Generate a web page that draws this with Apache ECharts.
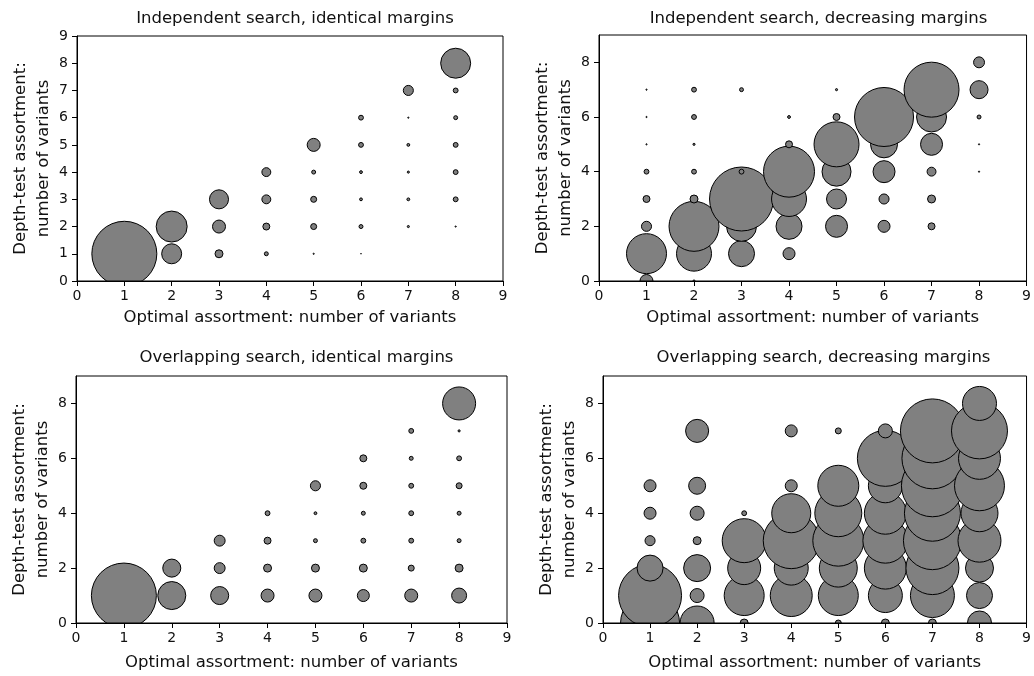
<!DOCTYPE html>
<html>
<head>
<meta charset="utf-8">
<script src="https://cdn.jsdelivr.net/npm/echarts@6/dist/echarts.min.js"></script>
<style>
html,body{margin:0;padding:0;background:#fff;}
#chart{width:1034px;height:676px;}
</style>
</head>
<body>
<div id="chart"></div>
<script>
// Panel titles
const panelTitles = [
  'Independent search, identical margins',
  'Independent search, decreasing margins',
  'Overlapping search, identical margins',
  'Overlapping search, decreasing margins'
];
const xAxisTitle = 'Optimal assortment: number of variants';
const yAxisTitle = 'Depth-test assortment:\nnumber of variants';

// Tick labels
const xTickValues = [0, 1, 2, 3, 4, 5, 6, 7, 8, 9];
const yTicksAll = [0, 1, 2, 3, 4, 5, 6, 7, 8, 9];
const yTicksEven = [0, 2, 4, 6, 8];

// Categories: optimal assortment (rows) and depth-test assortment (columns 0..8)
const optimalVariants = [1, 2, 3, 4, 5, 6, 7, 8];
const depthVariants = [0, 1, 2, 3, 4, 5, 6, 7, 8];

// Relative frequency (bubble area) — rows: optimal 1..8, columns: depth-test 0..8
const indepIdentical = [
  [0, 88.9, 0, 0, 0, 0, 0, 0, 0],
  [0, 9.0, 20.9, 0, 0, 0, 0, 0, 0],
  [0, 1.65, 4.0, 8.2, 0, 0, 0, 0, 0],
  [0, 0.5, 1.3, 2.0, 2.0, 0, 0, 0, 0],
  [0, 0.1, 1.0, 1.0, 0.5, 4.0, 0, 0, 0],
  [0, 0.05, 0.5, 0.3, 0.3, 0.7, 0.7, 0, 0],
  [0, 0, 0.2, 0.3, 0.2, 0.3, 0.1, 2.5, 0],
  [0, 0, 0.1, 0.7, 0.7, 0.7, 0.5, 0.7, 19.6]
];
const indepDecreasing = [
  [4.0, 34.3, 2.5, 1.3, 0.7, 0.1, 0.1, 0.1, 0],
  [0.2, 26.4, 53, 1.65, 0.7, 0.2, 0.7, 0.7, 0],
  [0, 14.9, 19.6, 86.2, 0.7, 0, 0, 0.5, 0],
  [0, 3.45, 14.9, 26.4, 55.2, 1.3, 0.3, 0, 0],
  [0, 0, 10.8, 9.0, 18.4, 43.2, 1.3, 0.2, 0],
  [0, 0, 3.45, 2.5, 10.8, 16, 73.5, 0, 0],
  [0, 0, 1.3, 1.65, 2.0, 10.8, 19.6, 64, 0],
  [0, 0, 0, 0, 0.1, 0.1, 0.5, 7.4, 2.9]
];
const overlapIdentical = [
  [0, 88.9, 0, 0, 0, 0, 0, 0, 0],
  [0, 17.2, 7.4, 0, 0, 0, 0, 0, 0],
  [0, 7.4, 2.9, 2.9, 0, 0, 0, 0, 0],
  [0, 4.0, 1.65, 1.3, 0.7, 0, 0, 0, 0],
  [0, 4.0, 1.65, 0.5, 0.3, 2.5, 0, 0, 0],
  [0, 3.45, 1.65, 0.7, 0.5, 1.3, 1.3, 0, 0],
  [0, 4.0, 1.0, 0.7, 0.7, 0.7, 0.5, 0.7, 0],
  [0.1, 5.2, 1.65, 0.5, 0.5, 1.0, 0.7, 0.2, 23.6]
];
const overlapDecreasing = [
  [73.5, 83.6, 14.9, 2.5, 3.45, 3.45, 0, 0, 0],
  [25, 4.6, 16, 1.65, 4.6, 6.6, 0, 11.8, 0],
  [1.65, 34.3, 23.6, 41.3, 0.7, 0, 0, 0, 0],
  [0, 37.7, 25, 66.3, 32.7, 3.45, 0, 3.45, 0],
  [1.0, 34.3, 31, 55.2, 47, 36, 0, 1.0, 0],
  [1.65, 25, 37.7, 43.2, 37.7, 25, 66.3, 4.6, 0],
  [1.65, 41.3, 59.5, 71, 66.3, 81, 78.4, 86.2, 0],
  [12.8, 14.9, 17.2, 39.5, 29.5, 53, 37.7, 66.3, 25]
];

const panelData = [indepIdentical, indepDecreasing, overlapIdentical, overlapDecreasing];
const panelYTicks = [yTicksAll, yTicksEven, yTicksEven, yTicksEven];

// layout
const grids = [
  {left: 77, top: 36, width: 426, height: 245},
  {left: 599, top: 35, width: 429, height: 246},
  {left: 76, top: 376, width: 431, height: 247},
  {left: 603, top: 376, width: 431, height: 247}
];
const xNameGaps = [28, 28, 31, 31];
const yNameGaps = [21, 20, 21, 20];
const titleTops = [5, 5, 344, 344];

const FONT = "'DejaVu Sans', 'Liberation Sans', Arial, sans-serif";
const TXT = '#111';

function bubbleDiameter(v) { return 7 * Math.sqrt(v); }

const option = {
  animation: false,
  backgroundColor: '#fff',
  textStyle: {fontFamily: FONT},
  title: panelTitles.map((t, i) => ({
    text: t,
    left: grids[i].left + grids[i].width / 2,
    top: titleTops[i],
    textAlign: 'center',
    textStyle: {fontSize: 16.5, fontWeight: 'normal', color: TXT, fontFamily: FONT}
  })),
  grid: grids.map(g => Object.assign({show: true, borderColor: '#000', borderWidth: 1, z: 10, backgroundColor: 'transparent'}, g)),
  xAxis: grids.map((g, i) => ({
    type: 'value', gridIndex: i, min: 0, max: 9, interval: 1, z: 10,
    name: xAxisTitle, nameLocation: 'middle', nameGap: xNameGaps[i],
    nameTextStyle: {fontSize: 16.5, color: TXT, fontFamily: FONT},
    axisLine: {show: true, onZero: false, lineStyle: {color: '#000', width: 1}},
    axisTick: {show: true, length: 5, lineStyle: {color: '#000'}, customValues: xTickValues},
    axisLabel: {fontSize: 14, color: TXT, margin: 8, fontFamily: FONT, customValues: xTickValues},
    splitLine: {show: false}
  })),
  yAxis: grids.map((g, i) => ({
    type: 'value', gridIndex: i, min: 0, max: 9, interval: 1, z: 10,
    name: yAxisTitle, nameLocation: 'middle', nameGap: yNameGaps[i],
    nameTextStyle: {fontSize: 16.5, lineHeight: 23, color: TXT, fontFamily: FONT},
    axisLine: {show: true, onZero: false, lineStyle: {color: '#000', width: 1}},
    axisTick: {show: true, length: 5, lineStyle: {color: '#000'}, customValues: panelYTicks[i]},
    axisLabel: {fontSize: 14, color: TXT, margin: 9, fontFamily: FONT, customValues: panelYTicks[i]},
    splitLine: {show: false}
  })),
  series: panelData.map((mat, i) => {
    const data = [];
    optimalVariants.forEach((x, r) => {
      depthVariants.forEach((y, c) => {
        const v = mat[r][c];
        if (v > 0) data.push([x, y, v]);
      });
    });
    return {
      type: 'custom',
      xAxisIndex: i, yAxisIndex: i,
      clip: true,
      data: data,
      renderItem: function (params, api) {
        const p = api.coord([api.value(0), api.value(1)]);
        const d = bubbleDiameter(api.value(2));
        return {
          type: 'circle',
          shape: {cx: p[0], cy: p[1], r: Math.max(0.35, (d - 1) / 2)},
          style: {fill: '#808080', stroke: '#000', lineWidth: 1}
        };
      }
    };
  })
};

const chart = echarts.init(document.getElementById('chart'), null, {renderer: 'canvas'});
chart.setOption(option);
</script>
</body>
</html>
